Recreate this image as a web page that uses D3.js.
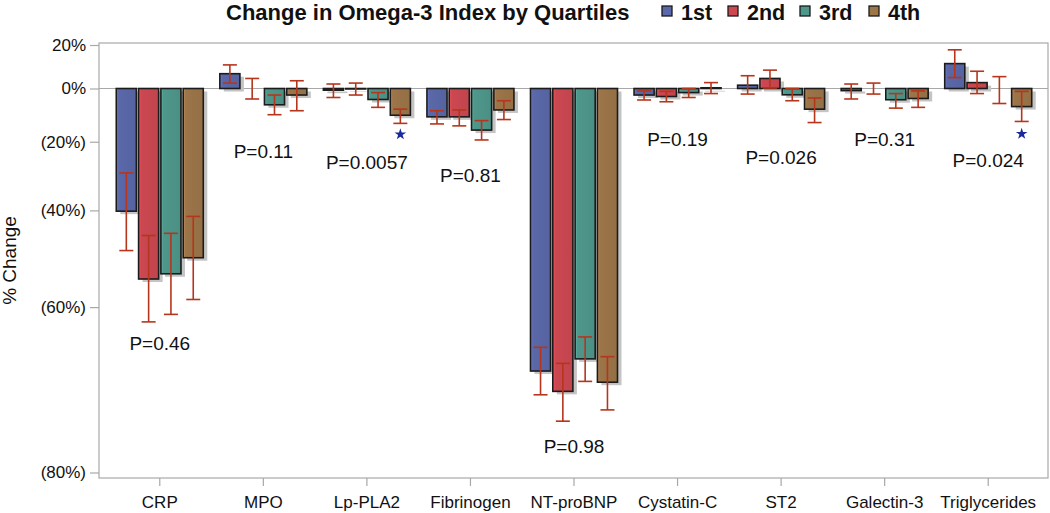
<!DOCTYPE html>
<html>
<head>
<meta charset="utf-8">
<script src="https://cdn.jsdelivr.net/npm/d3@7"></script>
<style>
  body { margin: 0; background: #fff; }
  svg { display: block; font-family: "Liberation Sans", Arial, sans-serif; }
</style>
</head>
<body>
<svg width="1050" height="513"></svg>
<script>
const markers = ['CRP', 'MPO', 'Lp-PLA2', 'Fibrinogen', 'NT-proBNP', 'Cystatin-C', 'ST2', 'Galectin-3', 'Triglycerides'];
const quartiles = ['1st', '2nd', '3rd', '4th'];

// mean % change and CI bounds, one array per quartile
const mean1st = [-40.2, 6.4, -0.7, -11.2, -69.4, -2.7, 1.4, -0.9, 11];
const low1st  = [-49.3, 2.3, -3.7, -13.8, -72.3, -4.7, -2.3, -4.3, 4.7];
const high1st = [-29.8, 10.4, 1.9, -8.9, -66.2, -1.0, 5.5, 1.9, 17.6];

const mean2nd = [-55.0, 0, -0.2, -11.2, -71.9, -3.3, 4.3, 0, 2.5];
const low2nd  = [-62.4, -4.3, -2.7, -14.5, -75.2, -5.4, 0.2, -2.3, -2.1];
const high2nd = [-46.0, 4.3, 2.3, -8.6, -68.4, -1.2, 8.0, 2.3, 7.5];

const mean3rd = [-54.0, -6.6, -4.5, -16.0, -67.8, -1.7, -2.6, -4.6, 0];
const low3rd  = [-61.2, -10.4, -7.6, -19.4, -70.7, -3.7, -5.0, -7.9, -6.1];
const high3rd = [-45.5, -2.7, -1.7, -12.6, -64.7, 0, 0, -2.1, 5.1];

const mean4th = [-50.8, -2.7, -10.6, -8.6, -70.8, 0.3, -8.3, -4.1, -7.3];
const low4th  = [-58.7, -8.9, -13.6, -12.2, -74.0, -2.1, -13.3, -7.6, -12.9];
const high4th = [-41.5, 3.3, -8.3, -5.0, -67.5, 2.5, -3.9, -1.0, -1.2];

const pValues = ['P=0.46', 'P=0.11', 'P=0.0057', 'P=0.81', 'P=0.98', 'P=0.19', 'P=0.026', 'P=0.31', 'P=0.024'];
const pLabelAt = [-65.6, -23.2, -26.6, -30.6, -77.7, -19.3, -25.1, -19.3, -26.1];
const starred = ['Lp-PLA2', 'Triglycerides'];
const starAt = [-17.5, -17.3];

const yTicks = [20, 0, -20, -40, -60, -80];
const colors = ['#5b68a9', '#cc4851', '#4f978b', '#9c7549'];

const means = [mean1st, mean2nd, mean3rd, mean4th];
const lows = [low1st, low2nd, low3rd, low4th];
const highs = [high1st, high2nd, high3rd, high4th];

const rows = [];
markers.forEach((m, i) => {
  quartiles.forEach((q, j) => {
    rows.push({ marker: m, q: q, qi: j, mean: means[j][i], low: lows[j][i], high: highs[j][i] });
  });
});

const svg = d3.select('svg');

const frame = { left: 99, right: 1048, top: 43, bottom: 478 };

const x = d3.scaleBand()
  .domain(markers)
  .range([108, 1040]);

const x1 = d3.scaleBand()
  .domain(quartiles)
  .range([(x.bandwidth() - 87) / 2, (x.bandwidth() + 87) / 2])
  .paddingInner(0.1);

// log of (1 + change) axis
const yLog = d3.scaleLog()
  .domain([0.2, 1.2])
  .range([472.5, 45]);
const y = v => yLog(1 + v / 100);

const fmt = v => v < 0 ? '(' + Math.abs(v) + '%)' : v + '%';

// gradients for bars
const defs = svg.append('defs');
colors.forEach((c, i) => {
  const gr = defs.append('linearGradient')
    .attr('id', 'grad' + i)
    .attr('x1', 0).attr('x2', 1).attr('y1', 0).attr('y2', 0);
  gr.append('stop').attr('offset', '0%').attr('stop-color', d3.color(c).brighter(0.6));
  gr.append('stop').attr('offset', '12%').attr('stop-color', c);
  gr.append('stop').attr('offset', '100%').attr('stop-color', d3.color(c).darker(0.15));
});

// frame
svg.append('rect')
  .attr('x', frame.left)
  .attr('y', frame.top)
  .attr('width', frame.right - frame.left)
  .attr('height', frame.bottom - frame.top)
  .attr('fill', 'none')
  .attr('stroke', '#a8a8a8')
  .attr('stroke-width', 1.2);

// zero reference line
svg.append('line')
  .attr('x1', frame.left).attr('x2', frame.right)
  .attr('y1', y(0)).attr('y2', y(0))
  .attr('stroke', '#a8a8a8')
  .attr('stroke-width', 1.2);

// y axis
const yAxisG = svg.append('g')
  .attr('transform', `translate(${frame.left},0)`)
  .call(d3.axisLeft(yLog)
    .tickValues(yTicks.map(v => 1 + v / 100))
    .tickFormat(d => fmt(Math.round((d - 1) * 100)))
    .tickSize(9)
    .tickPadding(4));
yAxisG.select('.domain').remove();
yAxisG.selectAll('line').attr('stroke', '#a8a8a8').attr('stroke-width', 1.2);
yAxisG.selectAll('text')
  .attr('font-size', 17)
  .attr('fill', '#111')
  .attr('font-family', '"Liberation Sans", Arial, sans-serif');

// x axis
const xAxisG = svg.append('g')
  .attr('transform', `translate(0,${frame.bottom})`)
  .call(d3.axisBottom(x).tickSize(8).tickPadding(10));
xAxisG.select('.domain').remove();
xAxisG.selectAll('line').attr('stroke', '#a8a8a8').attr('stroke-width', 1.2);
xAxisG.selectAll('text')
  .attr('font-size', 17)
  .attr('fill', '#111')
  .attr('font-family', '"Liberation Sans", Arial, sans-serif');

// y axis title
svg.append('text')
  .attr('transform', `translate(16,${(frame.top + frame.bottom) / 2}) rotate(-90)`)
  .attr('text-anchor', 'middle')
  .attr('font-size', 19)
  .attr('fill', '#111')
  .text('% Change');

const barX = d => x(d.marker) + x1(d.q);
const barTop = d => Math.min(y(0), y(d.mean));
const barH = d => Math.abs(y(d.mean) - y(0));

// shadows
svg.append('g').selectAll('rect')
  .data(rows.filter(d => d.mean !== 0))
  .join('rect')
  .attr('x', d => barX(d) + 4)
  .attr('y', d => barTop(d) + 3)
  .attr('width', x1.bandwidth())
  .attr('height', d => barH(d))
  .attr('fill', '#c4c4c4');

// bars
svg.append('g').selectAll('rect')
  .data(rows.filter(d => d.mean !== 0))
  .join('rect')
  .attr('x', d => barX(d))
  .attr('y', d => barTop(d))
  .attr('width', x1.bandwidth())
  .attr('height', d => barH(d))
  .attr('fill', d => `url(#grad${d.qi})`)
  .attr('stroke', '#1b1b1b')
  .attr('stroke-width', 1.6);

// error bars
const errColor = '#b5361c';
const capW = 7;
const errG = svg.append('g')
  .attr('stroke', errColor)
  .attr('stroke-width', 1.6);
rows.forEach(d => {
  const cx = barX(d) + x1.bandwidth() / 2;
  errG.append('line')
    .attr('x1', cx).attr('x2', cx)
    .attr('y1', y(d.low)).attr('y2', y(d.high));
  errG.append('line')
    .attr('x1', cx - capW).attr('x2', cx + capW)
    .attr('y1', y(d.low)).attr('y2', y(d.low));
  errG.append('line')
    .attr('x1', cx - capW).attr('x2', cx + capW)
    .attr('y1', y(d.high)).attr('y2', y(d.high));
});

// stars for significant 4th quartile
svg.append('g').selectAll('path')
  .data(starred)
  .join('path')
  .attr('transform', (m, i) => `translate(${x(m) + x1('4th') + x1.bandwidth() / 2},${y(starAt[i])})`)
  .attr('d', d3.symbol().type(d3.symbolStar).size(42))
  .attr('fill', '#1b2a9a');

// p-value labels
svg.append('g').selectAll('text')
  .data(markers)
  .join('text')
  .attr('x', m => x(m) + x.bandwidth() / 2)
  .attr('y', (m, i) => y(pLabelAt[i]))
  .attr('dy', '0.35em')
  .attr('text-anchor', 'middle')
  .attr('font-size', 19)
  .attr('fill', '#111')
  .text((m, i) => pValues[i]);

// title
svg.append('text')
  .attr('x', 226)
  .attr('y', 20)
  .attr('font-size', 22)
  .attr('font-weight', 'bold')
  .attr('fill', '#111')
  .text('Change in Omega-3 Index by Quartiles');

// legend
const legendX = [662, 728, 800, 869];
const legend = svg.append('g').selectAll('g')
  .data(quartiles)
  .join('g')
  .attr('transform', (q, i) => `translate(${legendX[i]},6)`);
legend.append('rect')
  .attr('width', 10)
  .attr('height', 10)
  .attr('fill', (q, i) => colors[i])
  .attr('stroke', '#1b1b1b')
  .attr('stroke-width', 1.3);
legend.append('text')
  .attr('x', 19)
  .attr('y', 13.5)
  .attr('font-size', 21.5)
  .attr('font-weight', 'bold')
  .attr('fill', '#111')
  .text(q => q);
</script>
</body>
</html>
